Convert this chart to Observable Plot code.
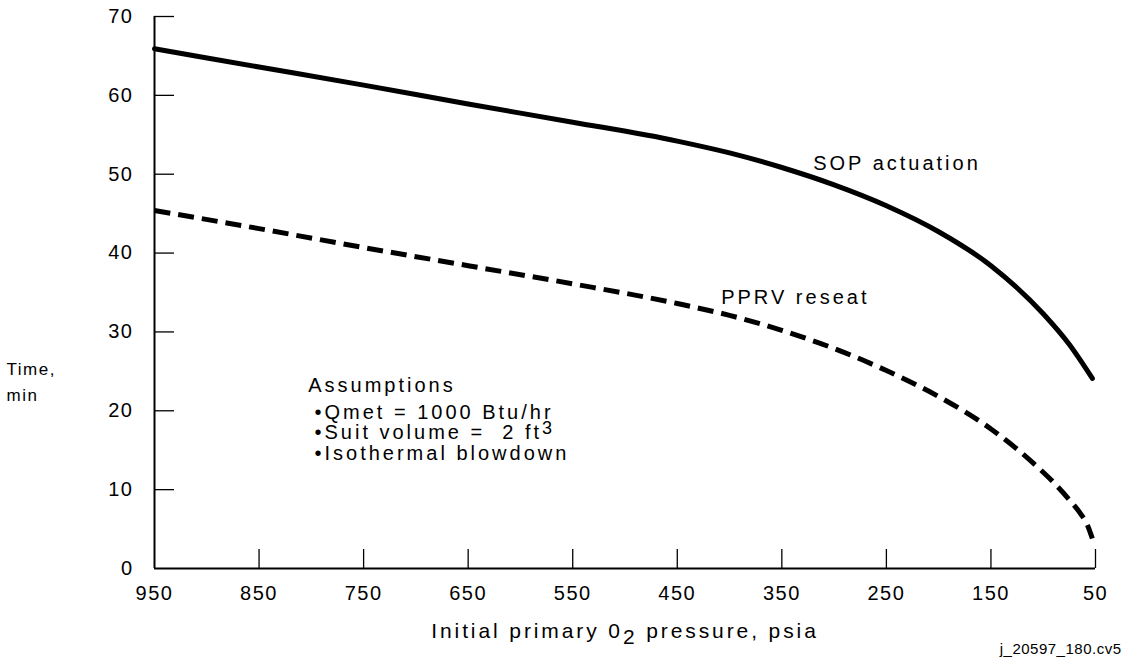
<!DOCTYPE html>
<html>
<head>
<meta charset="utf-8">
<script src="https://cdn.jsdelivr.net/npm/d3@7"></script>
<script src="https://cdn.jsdelivr.net/npm/@observablehq/plot@0.6"></script>
<style>
  html, body { margin: 0; padding: 0; background: #fff; }
</style>
</head>
<body>
<div id="chart"></div>
<script>
// ---- data ----
const sopPressure = [950, 850, 750, 650, 550, 450, 400, 350, 300, 250, 200, 150, 100, 75, 53];
const sopTime     = [65.9, 63.6, 61.3, 58.9, 56.6, 54.2, 52.7, 50.85, 48.65, 46.0, 42.7, 38.4, 32.3, 28.4, 24.1];

const pprvPressure = [950, 850, 750, 650, 550, 450, 400, 350, 300, 250, 200, 150, 109, 90, 75, 64, 58, 53];
const pprvTime     = [45.4, 43.1, 40.7, 38.4, 36.1, 33.6, 32.1, 30.2, 27.9, 25.1, 21.8, 17.7, 13.3, 10.9, 8.7, 6.9, 5.6, 3.8];

const xTicks = [950, 850, 750, 650, 550, 450, 350, 250, 150, 50];
const yTicks = [0, 10, 20, 30, 40, 50, 60, 70];

const curveLabels = ["SOP actuation", "PPRV reseat"];
const curveLabelX = [320, 408];
const curveLabelY = [51.4, 34.4];

const assumptionLines = ["Assumptions", "\u2022Qmet = 1000 Btu/hr", "\u2022Suit volume =  2 ft3", "\u2022Isothermal blowdown"];
const assumptionX = [803, 797, 797, 797];
const assumptionY = [23.2, 19.8, 17.2, 14.6];

const yTitle = "Time,\nmin";
const yTitlePos = [950, 24];
const xTitle = "Initial primary 02 pressure, psia";
const caption = "j_20597_180.cv5";

const sop = sopPressure.map((p, i) => ({p, t: sopTime[i]}));
const pprv = pprvPressure.map((p, i) => ({p, t: pprvTime[i]}));

const chart = Plot.plot({
  width: 1125,
  height: 662,
  marginTop: 16,
  marginLeft: 154,
  marginRight: 30,
  marginBottom: 94,
  style: {
    fontFamily: "'Liberation Sans', Arial, Helvetica, sans-serif",
    fontSize: "20px",
    color: "#000",
    background: "#fff",
    overflow: "visible",
    letterSpacing: "1.5px"
  },
  x: {domain: [950, 50], label: null},
  y: {domain: [0, 70], label: null},
  marks: [
    // axis lines
    Plot.ruleX([950], {y1: 0, y2: 70, stroke: "#000", strokeWidth: 2}),
    Plot.ruleY([0], {x1: 950, x2: 50, stroke: "#000", strokeWidth: 2}),
    // inward tick marks
    Plot.tickY(yTicks.filter(d => d > 0), {y: d => d, insetRight: 921, stroke: "#000", strokeWidth: 1.3}),
    Plot.tickX(xTicks.filter(d => d < 950), {x: d => d, insetTop: 533, stroke: "#000", strokeWidth: 1.3}),
    // tick labels
    Plot.axisY(yTicks, {tickSize: 0, tickPadding: 21, label: null, fontSize: 20}),
    Plot.axisX(xTicks, {tickSize: 0, tickPadding: 17, label: null, fontSize: 20}),
    // curves
    Plot.line(sop, {x: "p", y: "t", curve: "monotone-x", stroke: "#000", strokeWidth: 5, strokeLinecap: "round"}),
    Plot.line(pprv, {x: "p", y: "t", curve: "monotone-x", stroke: "#000", strokeWidth: 5, strokeDasharray: "16,8", strokeLinecap: "butt"}),
    // curve labels
    Plot.text(curveLabels, {x: (d, i) => curveLabelX[i], y: (d, i) => curveLabelY[i], text: d => d,
      textAnchor: "start", fontSize: 20}),
    // assumptions block
    Plot.text(assumptionLines, {x: (d, i) => assumptionX[i], y: (d, i) => assumptionY[i], text: d => d,
      textAnchor: "start", fontSize: 20}),
    // y title
    Plot.text([yTitle], {x: () => yTitlePos[0], y: () => yTitlePos[1], text: d => d, dx: -148,
      textAnchor: "start", fontSize: 17, lineHeight: 1.53}),
    // x title
    Plot.text([xTitle], {frameAnchor: "bottom", dy: 69, text: d => d, fontSize: 21}),
    // caption
    Plot.text([caption], {frameAnchor: "bottom-right", dx: 26, dy: 85, text: d => d, textAnchor: "end", fontSize: 15})
  ]
});

document.getElementById("chart").appendChild(chart);

// typographic touches: letter spacing, subscript and superscript
const svg = d3.select(chart);
svg.selectAll("text").each(function() {
  const t = d3.select(this);
  const s = this.textContent;
  if (curveLabels.includes(s) || assumptionLines.includes(s)) t.style("letter-spacing", "3px");
  if (s === caption) t.style("letter-spacing", "0.5px");
  if (s === xTitle) {
    t.style("letter-spacing", "2.9px");
    t.text(null);
    t.append("tspan").text("Initial primary 0");
    t.append("tspan").attr("dy", 6).text("2");
    t.append("tspan").attr("dy", -6).text(" pressure, psia");
  }
  if (s === assumptionLines[2]) {
    t.attr("xml:space", "preserve");
    t.text(null);
    t.append("tspan").text("\u2022Suit volume =  2 ft");
    t.append("tspan").attr("dy", -5).style("font-size", "18px").text("3");
  }
});
</script>
</body>
</html>
